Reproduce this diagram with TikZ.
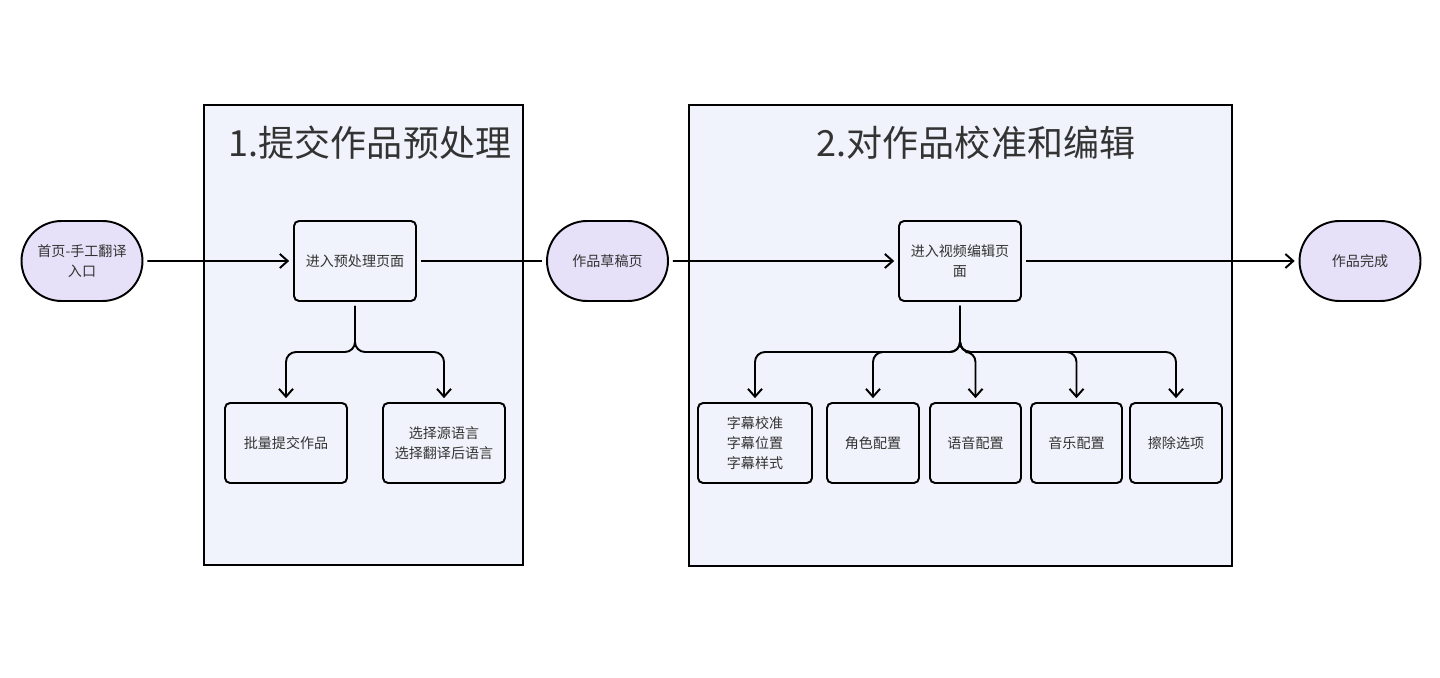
\documentclass[tikz,border=0pt]{standalone}
\usepackage{fontspec}
\setmainfont{Noto Sans CJK SC}
\usetikzlibrary{arrows.meta,shapes.misc}
\definecolor{grpfill}{RGB}{240,243,251}
\definecolor{termfill}{RGB}{230,225,248}
\definecolor{txtgray}{RGB}{51,51,51}
\begin{document}
\begin{tikzpicture}[x=0.02cm,y=-0.02cm,line width=1.1pt,
    grp/.style={draw,fill=grpfill},
    title/.style={text=txtgray,font=\fontsize{20.5}{24}\selectfont},
    term/.style={rounded rectangle,draw,fill=termfill,minimum width=2.42cm,minimum height=1.6cm,inner sep=0pt,align=center,text=txtgray,font=\fontsize{8}{11.5}\selectfont},
    proc/.style={draw,fill=grpfill,rounded corners=0.1cm,minimum width=2.44cm,minimum height=1.6cm,inner sep=0pt,align=center,text=txtgray,font=\fontsize{8}{11.5}\selectfont},
    link/.style={shorten <=2.2pt,shorten >=2.2pt},
    arr/.style={link,-{Straight Barb[length=4.5pt,width=8pt]}},
    fork/.style={arr,rounded corners=0.2cm}]
    \useasboundingbox (0,0) rectangle (1440,678);
    % the two stages
    \draw [grp](204,105) rectangle (523,565);
    \draw [grp](689,105) rectangle (1232,566);
    \node [title] (t1) at (370,143) {1.提交作品预处理};
    \node [title] (t2) at (976,143) {2.对作品校准和编辑};
    % main line
    \node [term] (start) at (82,261) {首页-手工翻译\\入口};
    \node [proc] (pre) at (355,261) {进入预处理页面};
    \node [term] (draft) at (607.5,261) {作品草稿页};
    \node [proc] (edit) at (960,261) {进入视频编辑页\\面};
    \node [term] (done) at (1360,261) {作品完成};
    % stage 1 items
    \node [proc] (batch) at (286,443) {批量提交作品};
    \node [proc] (lang) at (444,443) {选择源语言\\选择翻译后语言};
    % stage 2 items
    \node [proc,minimum width=2.28cm] (sub) at (755,443) {字幕校准\\字幕位置\\字幕样式};
    \node [proc,minimum width=1.84cm] (role) at (873,443) {角色配置};
    \node [proc,minimum width=1.82cm] (voice) at (975.5,443) {语音配置};
    \node [proc,minimum width=1.82cm] (music) at (1076.5,443) {音乐配置};
    \node [proc,minimum width=1.84cm] (erase) at (1176,443) {擦除选项};
    \coordinate (f1) at (355,352);
    \coordinate (f2) at (960,352);
    % connectors
    \draw [arr](start)--(pre);
    \draw [link](pre)--(draft);
    \draw [arr](draft)--(edit);
    \draw [arr](edit)--(done);
    \foreach \n in {batch,lang} \draw [fork](pre.south) |- (\n.north |- f1) -- (\n.north);
    \foreach \n in {sub,role,voice,music,erase} \draw [fork](edit.south) |- (\n.north |- f2) -- (\n.north);
\end{tikzpicture}
\end{document}
